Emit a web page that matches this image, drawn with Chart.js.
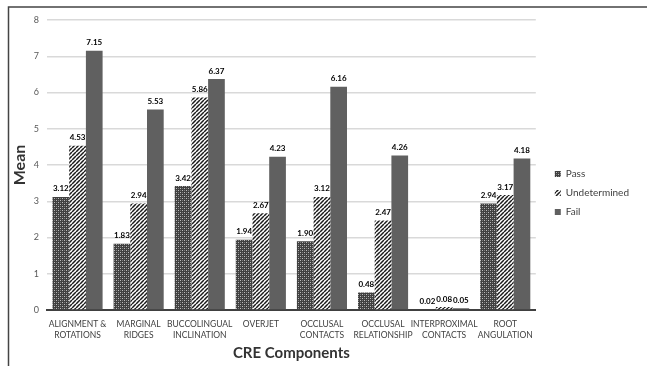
<!DOCTYPE html>
<html>
<head>
<meta charset="utf-8">
<script src="https://cdn.jsdelivr.net/npm/chart.js@4.4.1/dist/chart.umd.min.js"></script>
<style>
  html, body { margin: 0; padding: 0; background: #fff; }
  #wrap { width: 647px; height: 366px; position: relative; }
</style>
</head>
<body>
<div id="wrap"><canvas id="c" width="647" height="366"></canvas></div>
<script>
// CRE component categories (two-line axis labels)
const categories = [
  ["ALIGNMENT &", "ROTATIONS"],
  ["MARGINAL", "RIDGES"],
  ["BUCCOLINGUAL", "INCLINATION"],
  ["OVERJET"],
  ["OCCLUSAL", "CONTACTS"],
  ["OCCLUSAL", "RELATIONSHIP"],
  ["INTERPROXIMAL", "CONTACTS"],
  ["ROOT", "ANGULATION"]
];
const seriesNames = ["Pass", "Undetermined", "Fail"];
const passValues = [3.12, 1.83, 3.42, 1.94, 1.90, 0.48, 0.02, 2.94];
const undeterminedValues = [4.53, 2.94, 5.86, 2.67, 3.12, 2.47, 0.08, 3.17];
const failValues = [7.15, 5.53, 6.37, 4.23, 6.16, 4.26, 0.05, 4.18];
const yTicks = [0, 1, 2, 3, 4, 5, 6, 7, 8];

const FONT = "Lato, 'Open Sans', sans-serif";

// Fill patterns for the three series
function makePattern(size, draw) {
  const c = document.createElement('canvas');
  c.width = size; c.height = size;
  const g = c.getContext('2d');
  draw(g, size);
  return g.createPattern(c, 'repeat');
}
const ctxMain = document.getElementById('c').getContext('2d');
const checkPattern = makePattern(4, (g) => {
  g.fillStyle = '#404040';
  g.fillRect(0, 0, 4, 4);
  g.fillStyle = '#bdbdbd';
  g.fillRect(0, 0, 1, 1);
  g.fillRect(2, 2, 1, 1);
  g.fillStyle = '#7a7a7a';
  g.fillRect(2, 0, 1, 1);
  g.fillRect(0, 2, 1, 1);
});
const stripePattern = makePattern(4, (g) => {
  g.fillStyle = '#ffffff';
  g.fillRect(0, 0, 4, 4);
  g.strokeStyle = '#1a1a1a';
  g.lineWidth = 1.5;
  g.beginPath();
  for (let k = -4; k <= 8; k += 4) {
    g.moveTo(k, 4);
    g.lineTo(k + 4, 0);
  }
  g.stroke();
});
const failColor = '#606060';

// Value labels above each bar
const valueLabels = {
  id: 'valueLabels',
  afterDatasetsDraw(chart) {
    const ctx = chart.ctx;
    ctx.save();
    ctx.font = "bold 8px " + FONT;
    ctx.fillStyle = '#000';
    ctx.textAlign = 'center';
    ctx.textBaseline = 'bottom';
    chart.data.datasets.forEach((ds, di) => {
      const meta = chart.getDatasetMeta(di);
      meta.data.forEach((bar, i) => {
        ctx.fillText(ds.data[i].toFixed(2), bar.x, bar.y - 4);
      });
    });
    ctx.restore();
  }
};
// White background, outer frame lines, and a small nudge of the legend block
const frame = {
  id: 'frame',
  afterLayout(chart) {
    const lg = chart.legend;
    if (lg) {
      lg.left += 10; lg.right += 10;
      lg.top += 2; lg.bottom += 2;
    }
  },
  beforeDraw(chart) {
    const ctx = chart.ctx;
    ctx.save();
    ctx.fillStyle = '#fff';
    ctx.fillRect(0, 0, chart.width, chart.height);
    ctx.strokeStyle = '#444';
    ctx.lineWidth = 1.5;
    ctx.beginPath();
    ctx.moveTo(8.5, chart.height);
    ctx.lineTo(8.5, 7);
    ctx.lineTo(chart.width, 7);
    ctx.stroke();
    ctx.restore();
  }
};

new Chart(ctxMain, {
  type: 'bar',
  data: {
    labels: categories,
    datasets: [
      { label: seriesNames[0], data: passValues, backgroundColor: checkPattern },
      { label: seriesNames[1], data: undeterminedValues, backgroundColor: stripePattern },
      { label: seriesNames[2], data: failValues, backgroundColor: failColor }
    ]
  },
  options: {
    responsive: false,
    animation: false,
    devicePixelRatio: 1,
    datasets: { bar: { categoryPercentage: 0.82, barPercentage: 1.0 } },
    layout: { padding: { left: 10, right: 18, top: 20, bottom: 4 } },
    plugins: {
      tooltip: { enabled: false },
      legend: {
        position: 'right',
        labels: {
          font: { family: FONT, size: 10 },
          color: '#404040',
          boxWidth: 6,
          boxHeight: 6,
          padding: 9
        }
      }
    },
    scales: {
      x: {
        afterFit(scale) { scale.height = 52; },
        grid: { display: false },
        border: { display: true, color: '#404040', width: 2 },
        ticks: {
          font: { family: FONT, size: 8.5, lineHeight: 1.3 },
          color: '#404040',
          maxRotation: 0,
          autoSkip: false,
          padding: 1
        },
        title: {
          display: true,
          text: 'CRE Components',
          font: { family: FONT, size: 15, weight: 'bold' },
          color: '#333',
          padding: { top: 2, bottom: 0 }
        }
      },
      y: {
        min: 0,
        max: 8,
        afterFit(scale) { scale.width = 37; },
        afterBuildTicks(scale) { scale.ticks = yTicks.map(v => ({ value: v })); },
        grid: { color: '#d9d9d9', lineWidth: 1.5, drawTicks: false },
        border: { display: false },
        ticks: {
          font: { family: FONT, size: 9 },
          color: '#595959',
          padding: 8
        },
        title: {
          display: true,
          text: 'Mean',
          font: { family: FONT, size: 16, weight: 'bold' },
          color: '#333',
          padding: { top: 0, bottom: 4 }
        }
      }
    }
  },
  plugins: [frame, valueLabels]
});
</script>
</body>
</html>
